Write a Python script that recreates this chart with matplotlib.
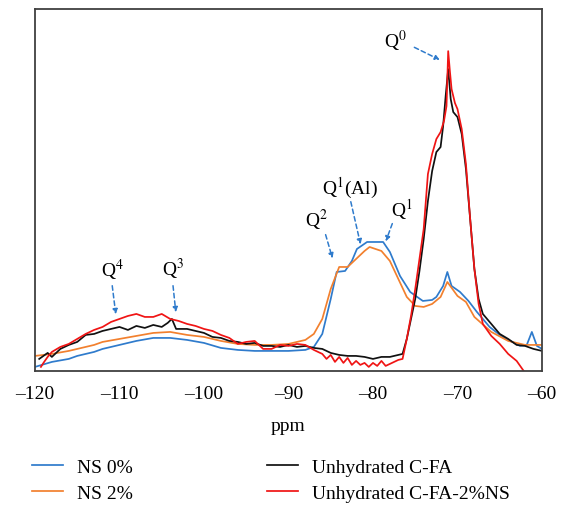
import matplotlib.pyplot as plt

plt.rcParams["font.family"] = ["Liberation Serif", "DejaVu Serif"]
plt.rcParams["mathtext.fontset"] = "stix"

# Chemical shift (ppm) and signal intensity (arbitrary units) per sample
ns0_ppm = [-120, -118, -116, -115, -113, -112, -110, -108, -106, -104, -102, -100, -98, -96, -94,
           -92, -90, -88, -87, -86, -85, -84.3, -83.3, -82.5, -81.9, -80.7, -79.8, -78.8, -78, -76.8,
           -75.6, -74.1, -73, -72.5, -71.7, -71.2, -70.7, -69.7, -68.7, -67.7, -66.2, -65, -64.2,
           -62.6, -61.8, -61.2, -60.6, -60]
ns0_int = [4, 9, 12, 15, 19, 22, 26, 30, 33, 33, 31, 28, 23, 21, 20,
           20, 20, 21, 24, 37, 72, 99, 100, 110, 122, 129, 129, 129, 119, 95,
           79, 70, 71, 74, 85, 99, 85, 79, 70, 59, 44, 36, 32, 25, 26, 39, 25, 22]

ns2_ppm = [-120, -118, -116, -115, -113, -112, -110, -108, -106, -104, -102, -100, -98, -96, -94,
           -92, -90, -88, -87, -86, -85, -84, -83, -82, -81, -80.4, -79, -78, -77, -76,
           -75, -74, -73, -72, -71.2, -70, -69, -68, -66, -64, -62, -60]
ns2_int = [15, 17, 20, 22, 26, 29, 32, 35, 38, 39, 36, 34, 30, 27, 26,
           26, 27, 31, 37, 52, 82, 104, 104, 112, 120, 124, 120, 110, 92, 74,
           65, 64, 67, 74, 89, 75, 69, 54, 39, 30, 26, 26]

cfa_ppm = [-119.5, -118.5, -118, -117, -116, -115, -114, -113, -112, -111, -110, -109, -108, -107,
           -106, -105, -104.3, -103.8, -103.3, -102, -101, -100, -99, -98, -97, -96, -95, -94, -93,
           -92, -91, -90, -89, -88, -87, -86, -85, -84, -83, -82, -81, -80, -79, -78, -77,
           -76.5, -76, -75.5, -75, -74.5, -74, -73.5, -73, -72.5, -72, -71.7, -71.4, -71.1, -70.8,
           -70.5, -70, -69.5, -69, -68.5, -68, -67.5, -67, -66, -65, -64, -63, -62, -61, -60]
cfa_int = [12, 18, 14, 22, 26, 29, 36, 37, 40, 42, 44, 41, 45, 43,
           46, 44, 48, 52, 42, 42, 40, 38, 34, 33, 30, 29, 27, 28, 25,
           25, 24, 26, 24, 25, 23, 22, 18, 16, 15, 15, 14, 12, 14, 14, 16,
           17, 32, 52, 72, 100, 132, 170, 200, 219, 224, 245, 275, 302, 272,
           259, 254, 237, 202, 152, 102, 72, 57, 47, 37, 32, 26, 25, 22, 20]

cfa2_ppm = [-119.3, -119, -118.5, -118, -117, -116, -115, -114, -113, -112, -111, -110, -109, -108,
            -107, -106, -105, -104, -103, -102, -101, -100, -99, -98, -97, -96, -95, -94, -93,
            -92, -91, -90, -89, -88, -87, -86, -85.5, -85, -84.5, -84, -83.5, -83, -82.5, -82,
            -81.5, -81, -80.5, -80, -79.5, -79, -78.5, -78, -77, -76.5, -76, -75.5, -75, -74.5,
            -74, -73.5, -73, -72.5, -72, -71.6, -71.3, -71.1, -70.9, -70.7, -70.3, -70, -69.5, -69,
            -68.5, -68, -67.5, -67, -66, -65, -64, -63, -62.5, -62]
cfa2_int = [4, 8, 14, 19, 24, 27, 32, 37, 41, 44, 49, 52, 55, 57,
            54, 54, 57, 52, 50, 47, 45, 42, 40, 36, 33, 27, 29, 30, 22,
            22, 26, 25, 27, 26, 21, 17, 12, 16, 9, 14, 8, 13, 6, 10,
            6, 8, 4, 8, 5, 10, 5, 7, 11, 12, 32, 55, 82, 112, 142, 197, 217, 232,
            239, 250, 265, 320, 300, 282, 268, 262, 242, 207,
            152, 102, 67, 47, 35, 27, 17, 10, 4, -2]

series = [
    ("NS 0%", ns0_ppm, ns0_int, "#2f7bcc"),
    ("NS 2%", ns2_ppm, ns2_int, "#f2802e"),
    ("Unhydrated C-FA", cfa_ppm, cfa_int, "#111111"),
    ("Unhydrated C-FA-2%NS", cfa2_ppm, cfa2_int, "#f01414"),
]

# Peak assignments: label, label position, arrow tail and tip
peak_labels = ["Q$^0$", "Q$^1$(Al)", "Q$^1$", "Q$^2$", "Q$^4$", "Q$^3$"]
label_xy = [(-77.3, 331), (-82.7, 184), (-76.6, 162), (-86.7, 152), (-110.8, 102), (-103.7, 103)]
tail_xy = [(-75.4, 325), (-82.7, 172), (-77.6, 150), (-85.7, 139), (-110.9, 88), (-103.7, 88)]
tip_xy = [(-71.8, 310), (-81.4, 124), (-78.6, 127), (-84.7, 110), (-110.4, 54), (-103.3, 56)]

xticks = list(range(-120, -59, 10))

fig = plt.figure(figsize=(5.68, 5.06), dpi=100)
ax = fig.add_axes([0.0616, 0.265, 0.8926, 0.715])

for name, x, y, color in series:
    ax.plot(x, y, color=color, lw=1.25, label=name)

for text, pos, tail, tip in zip(peak_labels, label_xy, tail_xy, tip_xy):
    ax.text(pos[0], pos[1], text, ha="center", va="center", fontsize=14)
    ax.annotate("", xy=tip, xytext=tail,
                arrowprops=dict(arrowstyle="-|>", color="#2f7bcc", lw=1.1,
                                linestyle=(0, (3, 2)), mutation_scale=7))

ax.set_xlim(-120, -60)
ax.set_ylim(0, 362)
ax.set_xticks(xticks)
ax.set_xticklabels(["\u2013" + str(abs(v)) for v in xticks])
ax.set_yticks([])
ax.tick_params(axis="x", length=0, pad=10, labelsize=14)
for spine in ax.spines.values():
    spine.set_color("#404040")
    spine.set_linewidth(1.3)
ax.set_xlabel("ppm", fontsize=14, labelpad=11)

fig.legend(loc="upper left", bbox_to_anchor=(0.056, 0.093), ncol=2, frameon=False,
           fontsize=14, handlelength=1.6, handletextpad=0.72, columnspacing=6.9,
           labelspacing=0.47, borderaxespad=0, borderpad=0)

fig.savefig("out.png", dpi=100, facecolor="white")
